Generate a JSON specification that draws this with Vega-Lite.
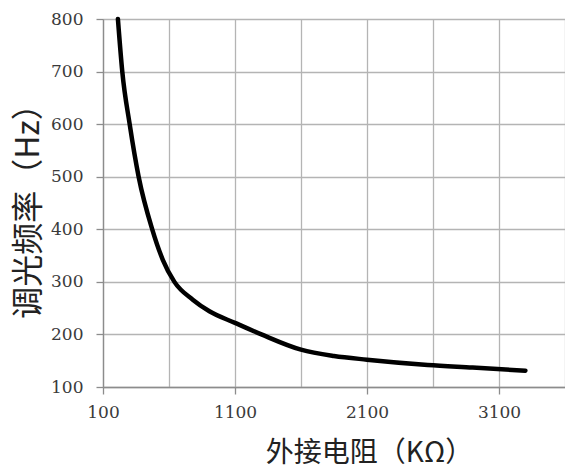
{
  "$schema": "https://vega.github.io/schema/vega-lite/v6.json",
  "autosize": "none",
  "padding": {"left": 103, "top": 19, "right": 0, "bottom": 88},
  "width": 462,
  "height": 368,
  "background": "white",
  "config": {
    "view": {"stroke": null},
    "axis": {
      "labelFont": "DejaVu Serif",
      "labelFontSize": 17,
      "labelColor": "#3a3a3a",
      "titleFont": "Noto Sans CJK SC",
      "titleFontWeight": "normal",
      "titleColor": "#222222",
      "domainColor": "#8c8c8c",
      "tickColor": "#8c8c8c",
      "gridColor": "#b4b4b4",
      "gridWidth": 1.3,
      "domainWidth": 1.3,
      "tickWidth": 1.3,
      "tickSize": 7
    }
  },
  "data": {
    "values": [
      {"r": 213, "f": 800},
      {"r": 246, "f": 700},
      {"r": 302, "f": 600},
      {"r": 370, "f": 500},
      {"r": 473, "f": 400},
      {"r": 553, "f": 342},
      {"r": 641, "f": 300},
      {"r": 780, "f": 266},
      {"r": 906, "f": 244},
      {"r": 1100, "f": 222},
      {"r": 1300, "f": 200},
      {"r": 1600, "f": 171},
      {"r": 1850, "f": 159},
      {"r": 2100, "f": 152},
      {"r": 2560, "f": 142},
      {"r": 2900, "f": 137},
      {"r": 3300, "f": 131}
    ]
  },
  "mark": {"type": "line", "color": "black", "strokeWidth": 4.5, "interpolate": "monotone", "strokeCap": "round"},
  "encoding": {
    "x": {
      "field": "r",
      "type": "quantitative",
      "scale": {"domain": [100, 3600], "nice": false, "zero": false},
      "axis": {
        "title": "外接电阻（KΩ）",
        "titleFontSize": 28,
        "titlePadding": 19,
        "titleX": 266,
        "titleAlign": "center",
        "values": [100, 600, 1100, 1600, 2100, 2600, 3100, 3600],
        "format": "d",
        "labelExpr": "datum.value % 1000 == 100 ? datum.label : ''",
        "tickColor": {"condition": {"test": "datum.value % 1000 == 100", "value": "#8c8c8c"}, "value": "transparent"},
        "labelPadding": 10,
        "labelFlush": false
      }
    },
    "y": {
      "field": "f",
      "type": "quantitative",
      "scale": {"domain": [100, 800], "nice": false, "zero": false},
      "axis": {
        "title": "调光频率（Hz）",
        "titleFontSize": 32,
        "titlePadding": 5,
        "values": [100, 200, 300, 400, 500, 600, 700, 800],
        "labelPadding": 13,
        "labelFlush": false
      }
    }
  }
}
